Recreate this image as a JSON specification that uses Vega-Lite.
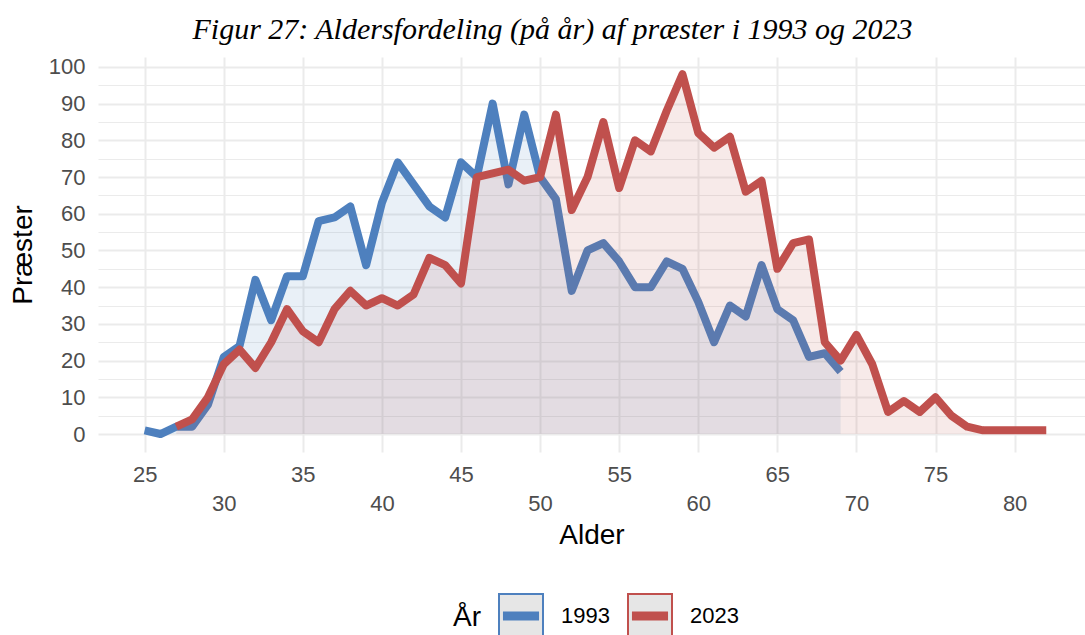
{
  "$schema": "https://vega.github.io/schema/vega-lite/v6.json",
  "autosize": {"type": "none"},
  "padding": {"left": 98, "top": 57, "right": 0, "bottom": 183},
  "width": 987,
  "height": 395,
  "background": "white",
  "title": {
    "text": "Figur 27: Aldersfordeling (på år) af præster i 1993 og 2023",
    "font": "Liberation Serif",
    "fontStyle": "italic",
    "fontSize": 30,
    "fontWeight": "normal",
    "color": "#000000",
    "anchor": "middle",
    "dx": -39,
    "dy": 33,
    "baseline": "alphabetic",
    "offset": 20
  },
  "config": {
    "view": {"stroke": null},
    "axis": {
      "domain": false,
      "ticks": false,
      "gridColor": "#EBEBEB",
      "labelFont": "Liberation Sans",
      "labelFontSize": 22,
      "labelColor": "#4D4D4D",
      "titleFont": "Liberation Sans",
      "titleFontSize": 28,
      "titleFontWeight": "normal",
      "titleColor": "#000000"
    }
  },
  "data": {
    "values": [
      {"year": "1993", "age": 25, "n": 1},
      {"year": "1993", "age": 26, "n": 0},
      {"year": "1993", "age": 27, "n": 2},
      {"year": "1993", "age": 28, "n": 2},
      {"year": "1993", "age": 29, "n": 8},
      {"year": "1993", "age": 30, "n": 21},
      {"year": "1993", "age": 31, "n": 24},
      {"year": "1993", "age": 32, "n": 42},
      {"year": "1993", "age": 33, "n": 31},
      {"year": "1993", "age": 34, "n": 43},
      {"year": "1993", "age": 35, "n": 43},
      {"year": "1993", "age": 36, "n": 58},
      {"year": "1993", "age": 37, "n": 59},
      {"year": "1993", "age": 38, "n": 62},
      {"year": "1993", "age": 39, "n": 46},
      {"year": "1993", "age": 40, "n": 63},
      {"year": "1993", "age": 41, "n": 74},
      {"year": "1993", "age": 42, "n": 68},
      {"year": "1993", "age": 43, "n": 62},
      {"year": "1993", "age": 44, "n": 59},
      {"year": "1993", "age": 45, "n": 74},
      {"year": "1993", "age": 46, "n": 70},
      {"year": "1993", "age": 47, "n": 90},
      {"year": "1993", "age": 48, "n": 68},
      {"year": "1993", "age": 49, "n": 87},
      {"year": "1993", "age": 50, "n": 70},
      {"year": "1993", "age": 51, "n": 64},
      {"year": "1993", "age": 52, "n": 39},
      {"year": "1993", "age": 53, "n": 50},
      {"year": "1993", "age": 54, "n": 52},
      {"year": "1993", "age": 55, "n": 47},
      {"year": "1993", "age": 56, "n": 40},
      {"year": "1993", "age": 57, "n": 40},
      {"year": "1993", "age": 58, "n": 47},
      {"year": "1993", "age": 59, "n": 45},
      {"year": "1993", "age": 60, "n": 36},
      {"year": "1993", "age": 61, "n": 25},
      {"year": "1993", "age": 62, "n": 35},
      {"year": "1993", "age": 63, "n": 32},
      {"year": "1993", "age": 64, "n": 46},
      {"year": "1993", "age": 65, "n": 34},
      {"year": "1993", "age": 66, "n": 31},
      {"year": "1993", "age": 67, "n": 21},
      {"year": "1993", "age": 68, "n": 22},
      {"year": "1993", "age": 69, "n": 17},
      {"year": "2023", "age": 27, "n": 2},
      {"year": "2023", "age": 28, "n": 4},
      {"year": "2023", "age": 29, "n": 10},
      {"year": "2023", "age": 30, "n": 19},
      {"year": "2023", "age": 31, "n": 23},
      {"year": "2023", "age": 32, "n": 18},
      {"year": "2023", "age": 33, "n": 25},
      {"year": "2023", "age": 34, "n": 34},
      {"year": "2023", "age": 35, "n": 28},
      {"year": "2023", "age": 36, "n": 25},
      {"year": "2023", "age": 37, "n": 34},
      {"year": "2023", "age": 38, "n": 39},
      {"year": "2023", "age": 39, "n": 35},
      {"year": "2023", "age": 40, "n": 37},
      {"year": "2023", "age": 41, "n": 35},
      {"year": "2023", "age": 42, "n": 38},
      {"year": "2023", "age": 43, "n": 48},
      {"year": "2023", "age": 44, "n": 46},
      {"year": "2023", "age": 45, "n": 41},
      {"year": "2023", "age": 46, "n": 70},
      {"year": "2023", "age": 47, "n": 71},
      {"year": "2023", "age": 48, "n": 72},
      {"year": "2023", "age": 49, "n": 69},
      {"year": "2023", "age": 50, "n": 70},
      {"year": "2023", "age": 51, "n": 87},
      {"year": "2023", "age": 52, "n": 61},
      {"year": "2023", "age": 53, "n": 70},
      {"year": "2023", "age": 54, "n": 85},
      {"year": "2023", "age": 55, "n": 67},
      {"year": "2023", "age": 56, "n": 80},
      {"year": "2023", "age": 57, "n": 77},
      {"year": "2023", "age": 58, "n": 88},
      {"year": "2023", "age": 59, "n": 98},
      {"year": "2023", "age": 60, "n": 82},
      {"year": "2023", "age": 61, "n": 78},
      {"year": "2023", "age": 62, "n": 81},
      {"year": "2023", "age": 63, "n": 66},
      {"year": "2023", "age": 64, "n": 69},
      {"year": "2023", "age": 65, "n": 45},
      {"year": "2023", "age": 66, "n": 52},
      {"year": "2023", "age": 67, "n": 53},
      {"year": "2023", "age": 68, "n": 25},
      {"year": "2023", "age": 69, "n": 20},
      {"year": "2023", "age": 70, "n": 27},
      {"year": "2023", "age": 71, "n": 19},
      {"year": "2023", "age": 72, "n": 6},
      {"year": "2023", "age": 73, "n": 9},
      {"year": "2023", "age": 74, "n": 6},
      {"year": "2023", "age": 75, "n": 10},
      {"year": "2023", "age": 76, "n": 5},
      {"year": "2023", "age": 77, "n": 2},
      {"year": "2023", "age": 78, "n": 1},
      {"year": "2023", "age": 79, "n": 1},
      {"year": "2023", "age": 80, "n": 1},
      {"year": "2023", "age": 81, "n": 1},
      {"year": "2023", "age": 82, "n": 1}
    ]
  },
  "encoding": {
    "x": {
      "field": "age",
      "type": "quantitative",
      "scale": {"domain": [22.05, 84.45], "nice": false, "zero": false},
      "axis": {
        "title": "Alder",
        "values": [25, 30, 35, 40, 45, 50, 55, 60, 65, 70, 75, 80],
        "labelExpr": "datum.value % 10 == 0 ? ['', datum.label] : datum.label",
        "labelLineHeight": 29,
        "labelPadding": 12,
        "labelOverlap": false,
        "labelFlush": false,
        "gridWidth": 2,
        "titleY": 69,
        "titleBaseline": "top"
      }
    },
    "y": {
      "field": "n",
      "type": "quantitative",
      "scale": {"domain": [-4.9, 102.7], "nice": false, "zero": false},
      "axis": {
        "title": "Præster",
        "values": [0, 5, 10, 15, 20, 25, 30, 35, 40, 45, 50, 55, 60, 65, 70, 75, 80, 85, 90, 95, 100],
        "labelExpr": "datum.value % 10 == 0 ? datum.label : ''",
        "labelPadding": 13,
        "labelOverlap": false,
        "labelFlush": false,
        "gridWidth": {"condition": {"test": "datum.value % 10 == 0", "value": 2}, "value": 1.2},
        "titleX": -67,
        "titleBaseline": "alphabetic"
      }
    }
  },
  "layer": [
    {
      "transform": [{"filter": "datum.year == '1993'"}],
      "mark": {"type": "area", "fillOpacity": 0.12},
      "encoding": {
        "fill": {"field": "year", "type": "nominal", "scale": {"domain": ["1993", "2023"], "range": ["#4E80BE", "#C0504D"]}, "legend": null}
      }
    },
    {
      "transform": [{"filter": "datum.year == '1993'"}],
      "mark": {"type": "line", "strokeWidth": 8, "strokeJoin": "round", "strokeCap": "butt"},
      "encoding": {
        "stroke": {
          "field": "year",
          "type": "nominal",
          "scale": {"range": ["#4E80BE", "#C0504D"]},
          "legend": {
            "title": "År",
            "orient": "none",
            "legendX": 355,
            "legendY": 536,
            "direction": "horizontal",
            "titleOrient": "left",
            "titleFont": "Liberation Sans",
            "titleFontSize": 28,
            "titleFontWeight": "normal",
            "titleColor": "#000000",
            "titlePadding": 17,
            "labelFont": "Liberation Sans",
            "labelFontSize": 22,
            "labelColor": "#000000",
            "labelOffset": 17,
            "columnPadding": 14,
            "symbolType": "M-1,-1H1V1H-1Z M-0.82,0H0.82 M-0.82,-0.16H0.82 M-0.82,0.16H0.82 M-0.82,-0.08H0.82 M-0.82,0.08H0.82",
            "symbolSize": 1936,
            "symbolStrokeWidth": 2,
            "symbolFillColor": "#E6E6E6"
          }
        }
      }
    },
    {
      "transform": [{"filter": "datum.year == '2023'"}],
      "mark": {"type": "area", "fillOpacity": 0.12},
      "encoding": {
        "fill": {"field": "year", "type": "nominal", "scale": {"domain": ["1993", "2023"], "range": ["#4E80BE", "#C0504D"]}, "legend": null}
      }
    },
    {
      "transform": [{"filter": "datum.year == '2023'"}],
      "mark": {"type": "line", "strokeWidth": 8, "strokeJoin": "round", "strokeCap": "butt"},
      "encoding": {
        "stroke": {
          "field": "year",
          "type": "nominal",
          "scale": {"range": ["#4E80BE", "#C0504D"]}
        }
      }
    }
  ]
}
